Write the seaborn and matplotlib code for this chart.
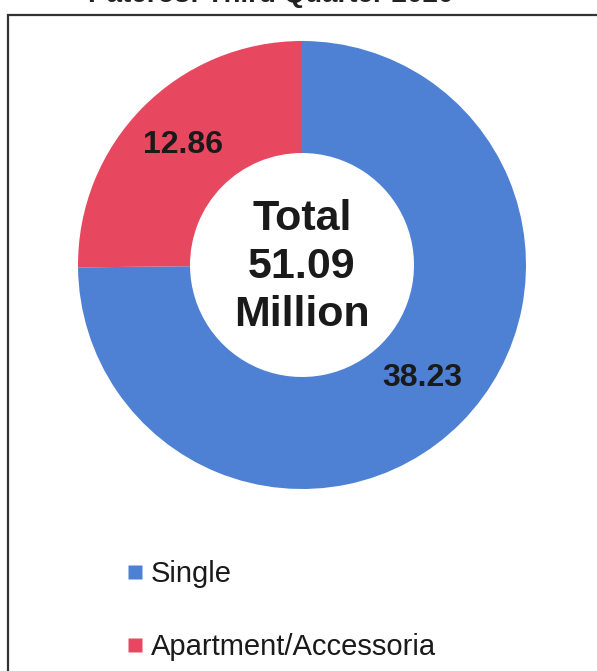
import matplotlib
matplotlib.use("Agg")
import matplotlib.pyplot as plt
import seaborn as sns
from matplotlib.patches import Rectangle
from matplotlib.lines import Line2D

sns.set_theme(style="white")
plt.rcParams['font.family'] = ['Liberation Sans', 'DejaVu Sans']

categories = ["Single", "Apartment/Accessoria"]
values = [38.23, 12.86]
value_labels = ["38.23", "12.86"]
center_label = "Total\n51.09\nMillion"
title = "Pateros: Third Quarter 2020"
colors = ["#4E81D3", "#E8485F"]

W, H = 597, 671
fig = plt.figure(figsize=(W / 100, H / 100), dpi=100)
fig.patch.set_facecolor("white")

# frame
fig.patches.append(Rectangle((8 / W, -0.05), 1.2, 1.05 - 15 / H, transform=fig.transFigure,
                             fill=False, edgecolor="#333333", linewidth=1.6))

# title (mostly cut off at top in reference)
fig.text(271 / W, 1 - 2 / H, title, ha="center", va="baseline", fontsize=20,
         fontweight="bold", color="#222222")

cx, cy, r = 302, 265, 224
ax = fig.add_axes([(cx - r) / W, 1 - (cy + r) / H, 2 * r / W, 2 * r / H])
wedges, _ = ax.pie(values, colors=colors, startangle=90, counterclock=False,
                   radius=1.0, wedgeprops=dict(width=0.5, edgecolor="none"))
ax.set_xlim(-1, 1)
ax.set_ylim(-1, 1)
ax.set_aspect("auto")
ax.axis("off")

label_pos = [(422, 378), (183, 145)]
for (px, py), lab in zip(label_pos, value_labels):
    x = (px - cx) / r
    y = -(py - cy) / r
    ax.text(x, y, lab, ha="center", va="center", fontsize=23, fontweight="bold", color="#1a1a1a")

ax.text(0, -(267 - cy) / r, center_label, ha="center", va="center", fontsize=31,
        fontweight="bold", color="#1a1a1a", linespacing=1.25)

handles = [Line2D([0], [0], marker="s", linestyle="none", markersize=10,
                  markerfacecolor=c, markeredgecolor="none") for c in colors]
fig.legend(handles, categories, loc="upper left", bbox_to_anchor=(94 / W, 1 - 534 / H),
           frameon=False, fontsize=21, labelspacing=1.55, handletextpad=0.05,
           handlelength=1.0, labelcolor="#1a1a1a")

fig.savefig("out.png", dpi=100)
